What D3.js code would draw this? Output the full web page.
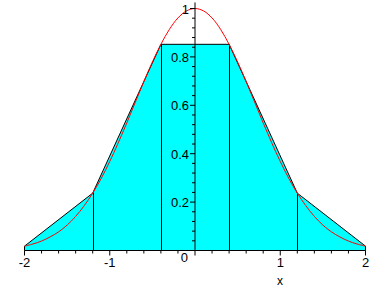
<!DOCTYPE html>
<html><head><meta charset="utf-8">
<script src="https://cdn.jsdelivr.net/npm/d3@7"></script>
<style>html,body{margin:0;padding:0;background:#fff;}svg{display:block;}</style>
</head><body>
<script>
// Curve samples
const curveX = [-2,-1.9,-1.8,-1.7,-1.6,-1.5,-1.4,-1.3,-1.2,-1.1,-1,-0.9,-0.8,-0.7,-0.6,-0.5,-0.4,-0.3,-0.2,-0.1,0,
                0.1,0.2,0.3,0.4,0.5,0.6,0.7,0.8,0.9,1,1.1,1.2,1.3,1.4,1.5,1.6,1.7,1.8,1.9,2];
const curveY = [0.018,0.027,0.039,0.056,0.077,0.105,0.141,0.185,0.237,0.298,0.368,0.445,0.527,0.613,0.698,0.779,0.852,0.914,0.961,0.990,1,
                0.990,0.961,0.914,0.852,0.779,0.698,0.613,0.527,0.445,0.368,0.298,0.237,0.185,0.141,0.105,0.077,0.056,0.039,0.027,0.018];
// Trapezoid nodes
const nodeX = [-2,-1.2,-0.4,0.4,1.2,2];
const nodeY = [0.018,0.237,0.852,0.852,0.237,0.018];
// Tick labels
const xTickVals = [-2,-1,1,2];
const yTickVals = [0.2,0.4,0.6,0.8,1];
const xLabel = "x";

const W = 388, H = 288;
const svg = d3.select("body").append("svg").attr("width", W).attr("height", H);
const x = d3.scaleLinear().domain([-2, 2]).range([24.5, 365.5]);
const y = d3.scaleLinear().domain([0, 1]).range([250.5, 8.5]);

const nodes = nodeX.map((v, i) => [v, nodeY[i]]);
const area = d3.area().x(d => x(d[0])).y0(y(0)).y1(d => y(d[1]));
svg.append("path").datum(nodes).attr("d", area).attr("fill", "#00FFFF").attr("stroke", "none");
const outline = d3.line().x(d => x(d[0])).y(d => y(d[1]));
svg.append("path").datum([[nodeX[0], 0], ...nodes, [nodeX[nodeX.length - 1], 0]])
  .attr("d", outline).attr("fill", "none").attr("stroke", "#000").attr("stroke-width", 1);
svg.selectAll("line.vert").data(nodeX.slice(1, -1)).enter().append("line")
  .attr("x1", d => Math.round(x(d)) + 0.5).attr("x2", d => Math.round(x(d)) + 0.5)
  .attr("y1", y(0)).attr("y2", (d, i) => y(nodeY[i + 1]))
  .attr("stroke", "#000").attr("stroke-width", 1);

const curve = curveX.map((v, i) => [v, curveY[i]]);
svg.append("path").datum(curve)
  .attr("d", d3.line().x(d => x(d[0])).y(d => y(d[1])).curve(d3.curveCatmullRom))
  .attr("fill", "none").attr("stroke", "#FF0000").attr("stroke-width", 1);

// X axis
const xAxis = svg.append("g").attr("transform", `translate(0,${y(0)})`);
xAxis.append("line").attr("x1", x(-2)).attr("x2", x(2)).attr("stroke", "#000");
const xMinor = d3.range(-20, 21, 2).map(v => v / 10);
xAxis.selectAll("line.t").data(xMinor).enter().append("line")
  .attr("x1", d => x(d)).attr("x2", d => x(d)).attr("y1", 0)
  .attr("y2", d => Math.abs(d - Math.round(d)) < 1e-9 ? 5 : 3).attr("stroke", "#000");
xAxis.selectAll("text").data(xTickVals).enter().append("text")
  .attr("x", d => x(d)).attr("y", 16.5).attr("text-anchor", "middle")
  .attr("font-family", "Liberation Sans, Arial, sans-serif").attr("font-size", 13)
  .text(d => d < 0 ? "-" + Math.abs(d) : d);

// Y axis
const yAxis = svg.append("g").attr("transform", `translate(${x(0)},0)`);
yAxis.append("line").attr("y1", y(0)).attr("y2", y(1.025)).attr("stroke", "#000");
const yMinor = d3.range(1, 26).map(v => v * 0.04);
yAxis.selectAll("line.t").data(yMinor).enter().append("line")
  .attr("y1", d => y(d)).attr("y2", d => y(d)).attr("x2", 0)
  .attr("x1", d => Math.abs(d * 5 - Math.round(d * 5)) < 1e-9 ? -5 : -3).attr("stroke", "#000");
yAxis.selectAll("text").data(yTickVals).enter().append("text")
  .attr("x", -6).attr("y", d => y(d) + 5).attr("text-anchor", "end")
  .attr("font-family", "Liberation Sans, Arial, sans-serif").attr("font-size", 13)
  .text(d => d);
yAxis.append("text").attr("x", -7).attr("y", 262).attr("text-anchor", "end")
  .attr("font-family", "Liberation Sans, Arial, sans-serif").attr("font-size", 13).text("0");

svg.append("text").attr("x", 280).attr("y", 284.5).attr("text-anchor", "middle")
  .attr("font-family", "Liberation Sans, Arial, sans-serif").attr("font-size", 12).text(xLabel);
</script>
</body></html>
